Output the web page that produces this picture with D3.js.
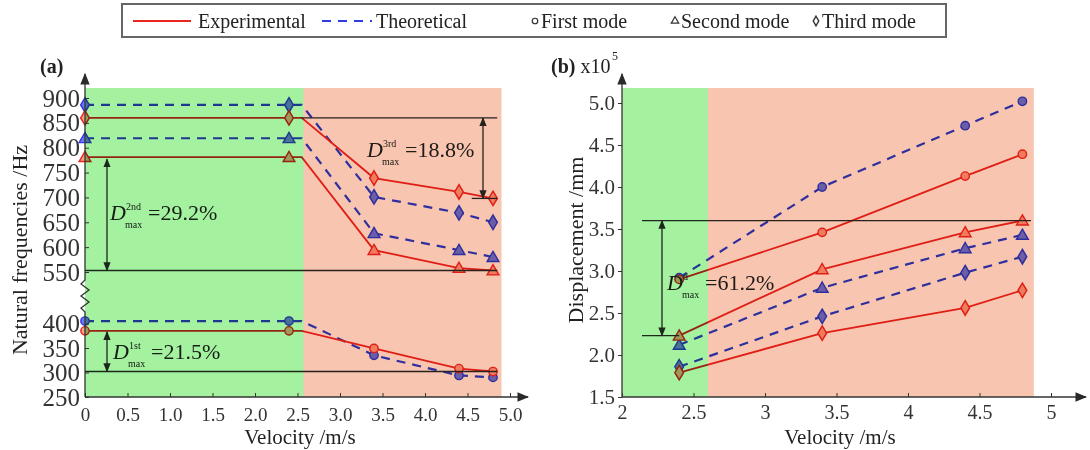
<!DOCTYPE html>
<html>
<head>
<meta charset="utf-8">
<title>Natural frequencies and displacement vs velocity</title>
<script src="https://d3js.org/d3.v7.min.js"></script>
<style>
  body { margin: 0; background: #fff; }
  svg text { font-family: "Liberation Serif", "DejaVu Serif", serif; fill: #222; }
  .tick line { stroke: #333; }
  .tick text { fill: #333; }
  .shade { mix-blend-mode: multiply; }
</style>
</head>
<body>
<svg id="chart" width="1090" height="450"></svg>
<script>
// ---------- data ----------
// panel (a): natural frequencies (Hz) at each velocity (m/s)
var velA = [0, 2.4, 3.4, 4.4, 4.8];
var bendVelA = 2.55;               // lines stay flat up to this velocity
var expA1 = [385, 385, 349, 308, 302];
var theA1 = [405, 405, 335, 294, 290];
var expA2 = [781, 781, 594, 558, 553];
var theA2 = [819, 819, 628, 594, 580];
var expA3 = [860, 860, 739, 711, 698];
var theA3 = [886, 886, 701, 669, 650];
var ticksAUp = [550, 600, 650, 700, 750, 800, 850, 900];
var ticksALo = [250, 300, 350, 400];
var ticksAX = [0, 0.5, 1.0, 1.5, 2.0, 2.5, 3.0, 3.5, 4.0, 4.5, 5.0];

// panel (b): displacement (x10^5 mm)
var velB = [2.4, 3.4, 4.4, 4.8];
var expB1 = [2.90, 3.46, 4.13, 4.39];
var theB1 = [2.92, 4.00, 4.73, 5.02];
var expB2 = [2.23, 3.02, 3.46, 3.60];
var theB2 = [2.12, 2.80, 3.27, 3.43];
var expB3 = [1.79, 2.26, 2.56, 2.77];
var theB3 = [1.86, 2.46, 2.98, 3.17];
var ticksBY = [1.5, 2.0, 2.5, 3.0, 3.5, 4.0, 4.5, 5.0];
var ticksBX = [2, 2.5, 3, 3.5, 4, 4.5, 5];

// shaded velocity ranges
var greenA = [0, 2.57], salmonA = [2.57, 4.9];
var greenB = [2, 2.6], salmonB = [2.6, 4.88];

var RED = "#e8261e", BLUE = "#2f3be6", ANN = "#2a2a2a";
var GREEN_FILL = "#a4f2a0", SALMON_FILL = "#f7c5b0";

var svg = d3.select("#chart");
var defs = svg.append("defs");
function arrowMarker(id, size) {
    defs.append("marker").attr("id", id)
        .attr("viewBox", "0 0 10 10").attr("refX", 9).attr("refY", 5)
        .attr("markerWidth", size).attr("markerHeight", size)
        .attr("orient", "auto-start-reverse")
        .append("path").attr("d", "M0,1L10,5L0,9Z").attr("fill", ANN);
}
arrowMarker("arr", 7);
arrowMarker("axarr", 9);

// ---------- scales ----------
var xA = d3.scaleLinear().domain([0, 5]).range([85, 510]);
var yAup = d3.scaleLinear().domain([550, 900]).range([272, 98]);
var yAlo = d3.scaleLinear().domain([250, 400]).range([397, 323.5]);
function yA(v) { return v >= 500 ? yAup(v) : yAlo(v); }
var xB = d3.scaleLinear().domain([2, 5]).range([622, 1051]);
var yB = d3.scaleLinear().domain([1.5, 5]).range([397, 103]);
var topY = 88, baseY = 397;

// ---------- markers ----------
function drawMarker(g, shape, x, y, color, fill) {
    var sym = shape === "circle" ? d3.symbolCircle : shape === "triangle" ? d3.symbolTriangle : d3.symbolDiamond;
    var size = shape === "circle" ? 55 : shape === "triangle" ? 60 : 36;
    var p = g.append("path")
        .attr("d", d3.symbol().type(sym).size(size)())
        .attr("fill", fill).attr("stroke", color).attr("stroke-width", 1.4);
    if (shape === "diamond") p.attr("transform", "translate(" + x + "," + y + ") scale(1.35,1.3)").attr("stroke-width", 1.1);
    else if (shape === "triangle") p.attr("transform", "translate(" + x + "," + (y + 1) + ")");
    else p.attr("transform", "translate(" + x + "," + y + ")");
}

function drawSeries(g, xs, vals, xScale, yScale, shape, theo, bend) {
    var pts = xs.map(function (v, i) { return [v, vals[i]]; });
    var linePts = pts.slice();
    if (bend !== undefined) linePts.splice(2, 0, [bend, vals[1]]);
    var color = theo ? BLUE : RED;
    g.append("path")
        .datum(linePts)
        .attr("d", d3.line().x(function (d) { return xScale(d[0]); }).y(function (d) { return yScale(d[1]); }))
        .attr("fill", "none").attr("stroke", color)
        .attr("stroke-width", theo ? 2.2 : 1.8)
        .attr("stroke-dasharray", theo ? "9,7" : null);
    pts.forEach(function (d) {
        drawMarker(g, shape, xScale(d[0]), yScale(d[1]), color, theo ? "#6f78f2" : "#f7a08a");
    });
}

function hline(g, x1, x2, y) {
    g.append("line").attr("x1", x1).attr("x2", x2).attr("y1", y).attr("y2", y)
        .attr("stroke", ANN).attr("stroke-width", 1.3);
}
function darrow(g, x, y1, y2) {
    g.append("line").attr("x1", x).attr("x2", x).attr("y1", y1).attr("y2", y2)
        .attr("stroke", ANN).attr("stroke-width", 1.3)
        .attr("marker-start", "url(#arr)").attr("marker-end", "url(#arr)");
}
function dlabel(g, x, y, sup, val) {
    var t = g.append("text").attr("x", x).attr("y", y).style("font-size", "22px");
    t.append("tspan").style("font-style", "italic").text("D");
    g.append("text").attr("x", x + 16).attr("y", y - 10).style("font-size", "10px").text(sup);
    g.append("text").attr("x", x + 15).attr("y", y + 8).style("font-size", "10px").text("max");
    g.append("text").attr("x", x + 38).attr("y", y).style("font-size", "22px").text("=" + val);
}

// ================= panel (a) =================
var gA = svg.append("g");
var dataA = gA.append("g");
drawSeries(dataA, velA, theA1, xA, yA, "circle", true, bendVelA);
drawSeries(dataA, velA, expA1, xA, yA, "circle", false, bendVelA);
drawSeries(dataA, velA, theA2, xA, yA, "triangle", true, bendVelA);
drawSeries(dataA, velA, expA2, xA, yA, "triangle", false, bendVelA);
drawSeries(dataA, velA, theA3, xA, yA, "diamond", true, bendVelA);
drawSeries(dataA, velA, expA3, xA, yA, "diamond", false, bendVelA);

// annotations (a)
hline(gA, xA(bendVelA), xA(4.85), yA(expA3[0]));
hline(gA, xA(4.55), xA(4.85), yA(expA3[4]));
darrow(gA, 483, yA(expA3[0]), yA(expA3[4]));
dlabel(gA, 367, 157, "3rd", "18.8%");
hline(gA, xA(0), xA(4.85), yA(expA2[4]));
darrow(gA, 107, yA(expA2[0]) + 2, yA(expA2[4]));
dlabel(gA, 110, 220, "2nd", "29.2%");
hline(gA, xA(0), xA(4.85), yA(expA1[4]));
darrow(gA, 107, yA(expA1[0]) + 1, yA(expA1[4]));
dlabel(gA, 113, 359, "1st", "21.5%");

// shading, multiplied over everything
gA.append("rect").attr("class", "shade")
    .attr("x", xA(greenA[0])).attr("width", xA(greenA[1]) - xA(greenA[0]))
    .attr("y", topY).attr("height", baseY - topY).attr("fill", GREEN_FILL);
gA.append("rect").attr("class", "shade")
    .attr("x", xA(salmonA[0])).attr("width", xA(salmonA[1]) - xA(salmonA[0]))
    .attr("y", topY).attr("height", baseY - topY).attr("fill", SALMON_FILL);

// axes (a)
var axAx = gA.append("g").attr("transform", "translate(0," + baseY + ")")
    .call(d3.axisBottom(xA).tickValues(ticksAX).tickSizeInner(-4).tickSizeOuter(0)
        .tickFormat(function (d) { return d === 0 ? "0" : d3.format(".1f")(d); }));
axAx.select(".domain").remove();
axAx.selectAll("text").style("font-size", "19px").attr("dy", "1.1em");
var axAy1 = gA.append("g").attr("transform", "translate(85,0)")
    .call(d3.axisLeft(yAup).tickValues(ticksAUp).tickSizeInner(-4).tickSizeOuter(0));
var axAy2 = gA.append("g").attr("transform", "translate(85,0)")
    .call(d3.axisLeft(yAlo).tickValues(ticksALo).tickSizeInner(-4).tickSizeOuter(0));
[axAy1, axAy2].forEach(function (a) {
    a.select(".domain").remove();
    a.selectAll("text").style("font-size", "25px").attr("x", -5);
});
gA.append("line").attr("x1", 85).attr("x2", 528).attr("y1", baseY).attr("y2", baseY)
    .attr("stroke", "#333").attr("stroke-width", 1.3).attr("marker-end", "url(#axarr)");
gA.append("path")
    .attr("d", "M85," + baseY + "L85,312L81,308L89,302L81,296L89,290L81,284L85,280L85,74")
    .attr("fill", "none").attr("stroke", "#333").attr("stroke-width", 1.3)
    .attr("marker-end", "url(#axarr)");
gA.append("text").attr("x", 40).attr("y", 73).style("font-size", "20px").style("font-weight", "bold").text("(a)");
gA.append("text").attr("transform", "translate(27,250) rotate(-90)").attr("text-anchor", "middle")
    .style("font-size", "22px").text("Natural frequencies /Hz");
gA.append("text").attr("x", 300).attr("y", 444).attr("text-anchor", "middle")
    .style("font-size", "21px").text("Velocity /m/s");

// ================= panel (b) =================
var gB = svg.append("g");
var dataB = gB.append("g");
drawSeries(dataB, velB, theB1, xB, yB, "circle", true);
drawSeries(dataB, velB, expB1, xB, yB, "circle", false);
drawSeries(dataB, velB, theB2, xB, yB, "triangle", true);
drawSeries(dataB, velB, expB2, xB, yB, "triangle", false);
drawSeries(dataB, velB, theB3, xB, yB, "diamond", true);
drawSeries(dataB, velB, expB3, xB, yB, "diamond", false);

hline(gB, 642, xB(4.86), yB(expB2[3]));
hline(gB, 642, xB(velB[0]), yB(expB2[0]));
darrow(gB, 662, yB(expB2[3]), yB(expB2[0]));
dlabel(gB, 667, 290, "d", "61.2%");

gB.append("rect").attr("class", "shade")
    .attr("x", xB(greenB[0])).attr("width", xB(greenB[1]) - xB(greenB[0]))
    .attr("y", topY).attr("height", baseY - topY).attr("fill", GREEN_FILL);
gB.append("rect").attr("class", "shade")
    .attr("x", xB(salmonB[0])).attr("width", xB(salmonB[1]) - xB(salmonB[0]))
    .attr("y", topY).attr("height", baseY - topY).attr("fill", SALMON_FILL);

var axBx = gB.append("g").attr("transform", "translate(0," + baseY + ")")
    .call(d3.axisBottom(xB).tickValues(ticksBX).tickSizeInner(-4).tickSizeOuter(0)
        .tickFormat(function (d) { return String(d); }));
axBx.select(".domain").remove();
axBx.selectAll("text").style("font-size", "20px").attr("dy", "0.95em");
var axBy = gB.append("g").attr("transform", "translate(622,0)")
    .call(d3.axisLeft(yB).tickValues(ticksBY).tickSizeInner(4).tickSizeOuter(0).tickFormat(d3.format(".1f")));
axBy.select(".domain").remove();
axBy.selectAll("text").style("font-size", "21px");
gB.append("line").attr("x1", 622).attr("x2", 1086).attr("y1", baseY).attr("y2", baseY)
    .attr("stroke", "#333").attr("stroke-width", 1.3).attr("marker-end", "url(#axarr)");
gB.append("line").attr("x1", 622).attr("x2", 622).attr("y1", baseY).attr("y2", 74)
    .attr("stroke", "#333").attr("stroke-width", 1.3).attr("marker-end", "url(#axarr)");
var bt = gB.append("text").attr("x", 551).attr("y", 73).style("font-size", "20px");
bt.append("tspan").style("font-weight", "bold").text("(b)");
bt.append("tspan").text(" x10");
gB.append("text").attr("x", 612).attr("y", 60).style("font-size", "12px").text("5");
gB.append("text").attr("transform", "translate(583,240) rotate(-90)").attr("text-anchor", "middle")
    .style("font-size", "22px").text("Displacement /mm");
gB.append("text").attr("x", 840).attr("y", 444).attr("text-anchor", "middle")
    .style("font-size", "21px").text("Velocity /m/s");

// ================= legend =================
var lg = svg.append("g");
lg.append("rect").attr("x", 122).attr("y", 4).attr("width", 824).attr("height", 33)
    .attr("fill", "#fff").attr("stroke", "#666").attr("stroke-width", 2);
lg.append("line").attr("x1", 133).attr("x2", 191).attr("y1", 21).attr("y2", 21)
    .attr("stroke", RED).attr("stroke-width", 2);
lg.append("line").attr("x1", 322).attr("x2", 372).attr("y1", 21).attr("y2", 21)
    .attr("stroke", BLUE).attr("stroke-width", 2).attr("stroke-dasharray", "9,7");
var legItems = [
    { x: 198, text: "Experimental" },
    { x: 376, text: "Theoretical" },
    { x: 541, text: "First mode", shape: "circle" },
    { x: 681, text: "Second mode", shape: "triangle" },
    { x: 822, text: "Third mode", shape: "diamond" }
];
legItems.forEach(function (d) {
    lg.append("text").attr("x", d.x).attr("y", 28).style("font-size", "20px").text(d.text);
    if (d.shape) {
        var sym = d.shape === "circle" ? d3.symbolCircle : d.shape === "triangle" ? d3.symbolTriangle : d3.symbolDiamond;
        lg.append("path").attr("d", d3.symbol().type(sym).size(d.shape === "diamond" ? 18 : 24)())
            .attr("transform", "translate(" + (d.x - 6) + ",21)" + (d.shape === "diamond" ? " scale(1.2,1.2)" : ""))
            .attr("fill", "none").attr("stroke", "#333").attr("stroke-width", 1.2);
    }
});
</script>
</body>
</html>
